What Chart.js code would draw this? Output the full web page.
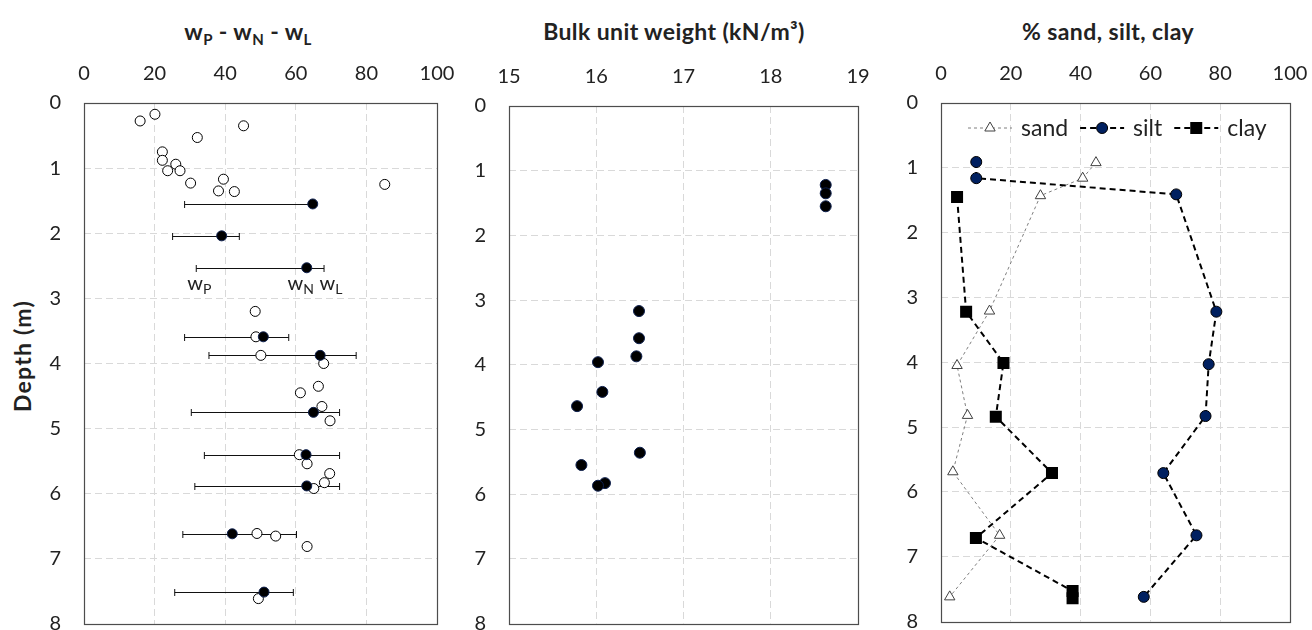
<!DOCTYPE html>
<html>
<head>
<meta charset="utf-8">
<script src="https://cdn.jsdelivr.net/npm/chart.js@4.4.1/dist/chart.umd.min.js"></script>
<style>
  body { margin: 0; background: #fff; width: 1312px; height: 630px; overflow: hidden; position: relative; font-family: Lato, sans-serif; color: #222; }
  canvas { position: absolute; top: 0; }
  .title { position: absolute; top: 17px; font-weight: bold; font-size: 23px; letter-spacing: 0.4px; white-space: nowrap; transform: translateX(-50%); }
  .title sub { font-size: 15px; vertical-align: -5px; }
  #depthLabel { position: absolute; left: 22px; top: 356px; font-weight: bold; font-size: 23px; letter-spacing: 1.2px; white-space: nowrap; transform: translate(-50%, -50%) rotate(-90deg); }
</style>
</head>
<body>
<div class="title" style="left:248px">w<sub>P</sub> - w<sub>N</sub> - w<sub>L</sub></div>
<div class="title" style="left:674px">Bulk unit weight (kN/m³)</div>
<div class="title" style="left:1108px">% sand, silt, clay</div>
<div id="depthLabel">Depth (m)</div>
<canvas id="c1" width="460" height="630" style="left:0px"></canvas>
<canvas id="c2" width="440" height="630" style="left:460px"></canvas>
<canvas id="c3" width="412" height="630" style="left:900px"></canvas>
<script>
// ---- data (depth in m) ----
const depthTicks = [0, 1, 2, 3, 4, 5, 6, 7, 8];

// panel 1: single water contents (open circles)
const wOpenDepth = [0.276, 0.173, 0.35, 0.53, 0.75, 0.88, 0.94, 1.04, 1.04, 1.23, 1.17, 1.35, 1.36, 1.25,
  3.2, 3.59, 3.875, 4.0, 4.35, 4.45, 4.66, 4.88, 5.40, 5.54, 5.69, 5.83, 5.92, 6.61, 6.65, 6.81, 7.61];
const wOpen = [15.9, 20.1, 45.2, 32.1, 22.2, 22.2, 26.0, 23.7, 27.2, 30.2, 39.5, 38.1, 42.6, 85.2,
  48.5, 48.7, 50.1, 67.9, 66.4, 61.3, 67.4, 69.7, 61.0, 63.2, 69.6, 68.1, 65.1, 49.0, 54.3, 63.2, 49.4];

// panel 1: wN with Atterberg limits wP..wL
const limDepth = [1.55, 2.04, 2.53, 3.59, 3.875, 4.75, 5.40, 5.88, 6.615, 7.51];
const wN = [64.8, 39.0, 63.1, 50.8, 66.9, 65.0, 62.9, 63.1, 42.0, 51.0];
const wP = [28.5, 25.1, 31.8, 28.5, 35.4, 30.4, 34.1, 31.4, 28.0, 25.7];
const wL = [65.5, 44.0, 68.0, 58.0, 77.1, 72.4, 72.4, 72.4, 60.2, 59.3];

// panel 2: bulk unit weight
const gammaDepth = [1.22, 1.35, 1.55, 3.17, 3.59, 3.87, 3.96, 4.42, 4.64, 5.36, 5.55, 5.83, 5.87];
const gamma = [18.63, 18.63, 18.63, 16.49, 16.49, 16.46, 16.02, 16.07, 15.78, 16.50, 15.83, 16.10, 16.02];

// panel 3: grain size fractions
const sandDepth = [0.92, 1.16, 1.43, 3.21, 4.05, 4.82, 5.69, 6.67, 7.62];
const sand = [44.4, 40.6, 28.5, 13.9, 4.6, 7.6, 3.4, 16.8, 2.5];
const siltDepth = [0.91, 1.16, 1.41, 3.22, 4.03, 4.83, 5.71, 6.67, 7.62];
const silt = [10.1, 10.1, 67.4, 78.9, 76.7, 75.8, 63.7, 73.2, 58.1];
const clayDepth = [1.45, 3.22, 4.01, 4.84, 5.71, 6.71, 7.53, 7.64];
const clay = [4.6, 7.2, 17.9, 15.7, 31.8, 10.0, 37.7, 37.7];

const percentTicks = [0, 20, 40, 60, 80, 100];
const gammaTicks = [15, 16, 17, 18, 19];

const FONT = 'Lato';
const NAVY = '#002060';

function pts(xs, ys) {
  return xs.map((v, i) => ({ x: v, y: ys[i] }));
}

// frame round the plot area
const frame = {
  id: 'frame',
  beforeDatasetsDraw(chart) {
    const a = chart.chartArea, ctx = chart.ctx;
    ctx.save();
    ctx.strokeStyle = '#4d4d4d';
    ctx.lineWidth = 1.2;
    ctx.strokeRect(Math.round(a.left) + 0.5, Math.round(a.top) + 0.5, Math.round(a.right - a.left), Math.round(a.bottom - a.top));
    ctx.restore();
  }
};

// no gridline on the edges, the frame is there
function gridColor(c) {
  const s = c.scale;
  if (c.tick && (c.tick.value === s.min || c.tick.value === s.max)) return 'rgba(0,0,0,0)';
  return '#d9d9d9';
}

function makeOptions(xTicks, axisH, axisW, padRight) {
  return {
    responsive: false,
    animation: false,
    layout: { padding: { left: 0, top: 0, right: padRight, bottom: 6 } },
    plugins: { legend: { display: false }, tooltip: { enabled: false } },
    scales: {
      x: {
        type: 'linear', position: 'top',
        min: xTicks[0], max: xTicks[xTicks.length - 1],
        afterBuildTicks(s) { s.ticks = xTicks.map(v => ({ value: v })); },
        afterFit(s) { s.height = axisH; s.paddingLeft = 0; s.paddingRight = 0; s.paddingTop = 0; s.paddingBottom = 0; },
        grid: { color: gridColor, drawTicks: false, lineWidth: 1 },
        border: { display: false, dash: [7, 4] },
        ticks: { padding: 17, color: '#222', font: { family: FONT, size: 20 } }
      },
      y: {
        type: 'linear', reverse: true, min: 0, max: 8,
        afterBuildTicks(s) { s.ticks = depthTicks.map(v => ({ value: v })); },
        afterFit(s) { s.width = axisW; s.paddingLeft = 0; s.paddingRight = 0; s.paddingTop = 0; s.paddingBottom = 0; },
        grid: { color: gridColor, drawTicks: false, lineWidth: 1 },
        border: { display: false, dash: [7, 4] },
        ticks: { padding: 23, color: '#222', font: { family: FONT, size: 20 } }
      }
    }
  };
}

// error bars wP -> wL, drawn before the dots
const errorBars = {
  id: 'errorBars',
  beforeDatasetsDraw(chart) {
    const ctx = chart.ctx, x = chart.scales.x, y = chart.scales.y;
    ctx.save();
    ctx.strokeStyle = '#111';
    ctx.lineWidth = 1;
    limDepth.forEach((d, i) => {
      const yy = Math.round(y.getPixelForValue(d)) + 0.5;
      const x1 = x.getPixelForValue(wP[i]), x2 = x.getPixelForValue(wL[i]);
      ctx.beginPath();
      ctx.moveTo(x1, yy); ctx.lineTo(x2, yy);
      ctx.moveTo(x1, yy - 3.5); ctx.lineTo(x1, yy + 3.5);
      ctx.moveTo(x2, yy - 3.5); ctx.lineTo(x2, yy + 3.5);
      ctx.stroke();
    });
    ctx.restore();
  }
};

// wP / wN / wL labels under the third bar
function subText(ctx, x, y, main, sub) {
  ctx.font = '20px ' + FONT;
  const w1 = ctx.measureText(main).width;
  ctx.font = '14px ' + FONT;
  const w2 = ctx.measureText(sub).width;
  const x0 = x - (w1 + w2) / 2;
  ctx.font = '20px ' + FONT;
  ctx.fillText(main, x0, y);
  ctx.font = '14px ' + FONT;
  ctx.fillText(sub, x0 + w1, y + 4);
}
const limitLabels = {
  id: 'limitLabels',
  afterDatasetsDraw(chart) {
    const ctx = chart.ctx, x = chart.scales.x, y = chart.scales.y;
    ctx.save();
    ctx.fillStyle = '#222';
    ctx.textBaseline = 'alphabetic';
    const yy = y.getPixelForValue(2.53) + 22;
    subText(ctx, x.getPixelForValue(wP[2]) + 3, yy, 'w', 'P');
    subText(ctx, x.getPixelForValue(wN[2]) - 6, yy, 'w', 'N');
    subText(ctx, x.getPixelForValue(wL[2]) + 7, yy, 'w', 'L');
    ctx.restore();
  }
};

new Chart(document.getElementById('c1'), {
  type: 'scatter',
  data: {
    datasets: [
      { data: pts(wN, limDepth), pointRadius: 5, backgroundColor: '#000', borderColor: '#0d1f4d', borderWidth: 1 },
      { data: pts(wOpen, wOpenDepth), pointRadius: 5, backgroundColor: '#fff', borderColor: '#000', borderWidth: 1 }
    ]
  },
  options: makeOptions(percentTicks, 103, 84, 23),
  plugins: [frame, errorBars, limitLabels]
});

new Chart(document.getElementById('c2'), {
  type: 'scatter',
  data: {
    datasets: [
      { data: pts(gamma, gammaDepth), pointRadius: 5.5, backgroundColor: '#000', borderColor: '#0d1f4d', borderWidth: 1 }
    ]
  },
  options: makeOptions(gammaTicks, 106, 49, 42),
  plugins: [frame]
});

// legend inside the plot, Excel style (line + marker + text)
function marker(ctx, kind, x, y) {
  ctx.save();
  ctx.setLineDash([]);
  ctx.lineWidth = 1;
  if (kind === 'sand') {
    ctx.fillStyle = '#fff'; ctx.strokeStyle = '#404040';
    ctx.beginPath();
    ctx.moveTo(x, y - 6); ctx.lineTo(x + 5.2, y + 3); ctx.lineTo(x - 5.2, y + 3); ctx.closePath();
    ctx.fill(); ctx.stroke();
  } else if (kind === 'silt') {
    ctx.fillStyle = NAVY; ctx.strokeStyle = '#000';
    ctx.beginPath(); ctx.arc(x, y, 5.5, 0, Math.PI * 2); ctx.fill(); ctx.stroke();
  } else {
    ctx.fillStyle = '#000';
    ctx.fillRect(x - 6, y - 6, 12, 12);
  }
  ctx.restore();
}
const legendItems = [
  { text: 'sand', color: '#7f7f7f', width: 1, dash: [3, 3] },
  { text: 'silt', color: '#000', width: 2, dash: [6, 4] },
  { text: 'clay', color: '#000', width: 2, dash: [6, 4] }
];
const insideLegend = {
  id: 'insideLegend',
  afterDatasetsDraw(chart) {
    const ctx = chart.ctx, a = chart.chartArea;
    const y = a.top + 25;
    let x = a.left + 27;
    ctx.save();
    ctx.font = '23px ' + FONT;
    ctx.textBaseline = 'middle';
    legendItems.forEach(it => {
      ctx.strokeStyle = it.color; ctx.lineWidth = it.width; ctx.setLineDash(it.dash);
      ctx.beginPath(); ctx.moveTo(x, y); ctx.lineTo(x + 44, y); ctx.stroke();
      marker(ctx, it.text, x + 22, y);
      ctx.fillStyle = '#222';
      ctx.fillText(it.text, x + 53, y + 1);
      x = x + 53 + ctx.measureText(it.text).width + 12;
    });
    ctx.restore();
  }
};

new Chart(document.getElementById('c3'), {
  type: 'scatter',
  data: {
    datasets: [
      { data: pts(clay, clayDepth), showLine: true, borderColor: '#000', borderWidth: 2, borderDash: [6, 4],
        pointStyle: 'rect', pointRadius: 8.5, pointBackgroundColor: '#000', pointBorderColor: '#000', pointBorderWidth: 0 },
      { data: pts(silt, siltDepth), showLine: true, borderColor: '#000', borderWidth: 2, borderDash: [6, 4],
        pointStyle: 'circle', pointRadius: 5.5, pointBackgroundColor: NAVY, pointBorderColor: '#000', pointBorderWidth: 1 },
      { data: pts(sand, sandDepth), showLine: true, borderColor: '#7f7f7f', borderWidth: 1, borderDash: [3, 3],
        pointStyle: 'triangle', pointRadius: 6, pointBackgroundColor: '#fff', pointBorderColor: '#404040', pointBorderWidth: 1 }
    ]
  },
  options: makeOptions(percentTicks, 103, 41, 22),
  plugins: [frame, insideLegend]
});
</script>
</body>
</html>
